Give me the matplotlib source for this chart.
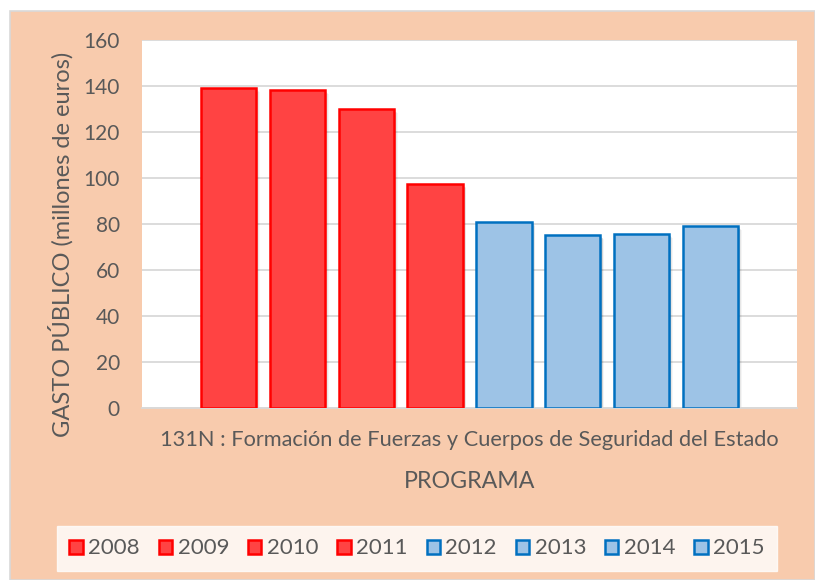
import matplotlib.pyplot as plt
from matplotlib.patches import Rectangle

years = ['2008', '2009', '2010', '2011', '2012', '2013', '2014', '2015']
gasto = [139.2, 138.3, 130.0, 97.3, 81.0, 75.2, 75.7, 79.3]
categoria = '131N : Formación de Fuerzas y Cuerpos de Seguridad del Estado'

plt.rcParams['font.family'] = ['Lato', 'DejaVu Sans']
txt = '#595959'
peach = '#F8CBAD'

W, H = 815, 580
fig = plt.figure(figsize=(W / 100, H / 100), dpi=100)
fig.patch.set_facecolor('white')

# peach chart background with thin gray frame
bg = Rectangle((10 / W, 0), 1 - 10 / W, 1 - 11 / H, transform=fig.transFigure,
               facecolor=peach, edgecolor='#D9D9D9', lw=1.2, zorder=0)
fig.add_artist(bg)

ax = fig.add_axes([142 / W, 1 - 408 / H, (797 - 142) / W, (408 - 40) / H])
ax.set_facecolor('white')

for i, (yr, v) in enumerate(zip(years, gasto)):
    if i < 4:
        fc, ec = '#FF4343', '#FF0000'
    else:
        fc, ec = '#9DC3E6', '#0070C0'
    # soft drop shadow
    for k, a in enumerate([0.10, 0.08, 0.06, 0.04]):
        ax.add_patch(Rectangle((i - 0.4 + 0.02 + 0.012 * k, 0), 0.8, v - 0.8 - 0.3 * k,
                               facecolor='black', alpha=a, lw=0, zorder=2))
    ax.bar(i, v, width=0.8, color=fc, edgecolor=ec, linewidth=1.8,
           label=yr, zorder=3)

ax.set_xlim(-1.254, 8.254)
ax.set_ylim(0, 160)
ax.set_yticks(range(0, 161, 20))
ax.grid(axis='y', color='#D9D9D9', lw=1.3, zorder=0)
ax.set_axisbelow(True)
ax.set_xticks([3.5])
ax.set_xticklabels([categoria], fontsize=15.7, color=txt)
ax.tick_params(axis='x', length=0, pad=16)
ax.tick_params(axis='y', length=0, labelsize=15, colors=txt, pad=16)
for s in ['top', 'right', 'left']:
    ax.spines[s].set_visible(False)
ax.spines['bottom'].set_color('#D9D9D9')
ax.spines['bottom'].set_linewidth(1.3)

ax.set_xlabel('PROGRAMA', fontsize=16.7, color=txt, labelpad=15)
fig.text(61 / W, 1 - 244 / H, 'GASTO PÚBLICO (millones de euros)', rotation=90,
         fontsize=17, color=txt, ha='center', va='center')

leg = fig.legend(loc='center', bbox_to_anchor=(417 / W, 1 - 548.5 / H), ncol=8,
                 fontsize=16, frameon=True, fancybox=False, handlelength=0.6,
                 handleheight=0.6, handletextpad=0.25, columnspacing=0.85,
                 borderpad=0.55)
leg.get_frame().set_facecolor('white')
leg.get_frame().set_edgecolor('white')
for t in leg.get_texts():
    t.set_color(txt)

fig.savefig('out.png', dpi=100, facecolor=fig.get_facecolor())
